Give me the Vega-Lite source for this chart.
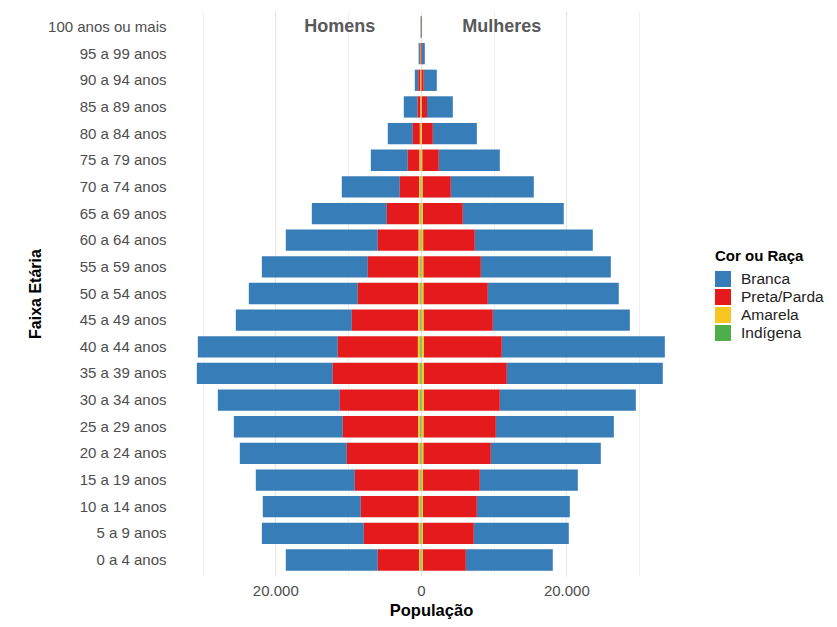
{
  "$schema": "https://vega.github.io/schema/vega-lite/v6.json",
  "width": 518,
  "height": 565,
  "autosize": {"type": "none"},
  "padding": {"left": 172, "top": 11, "right": 147, "bottom": 51},
  "background": "white",
  "config": {"view": {"stroke": null}, "font": "Liberation Sans"},
  "layer": [
    {
      "data": {"values": [
        {"idade": "100 anos ou mais", "sexo": "Homens", "Branca": -20, "Preta/Parda": -20, "Amarela": -10, "Indígena": -10},
        {"idade": "95 a 99 anos", "sexo": "Homens", "Branca": -180, "Preta/Parda": -90, "Amarela": -20, "Indígena": -10},
        {"idade": "90 a 94 anos", "sexo": "Homens", "Branca": -475, "Preta/Parda": -295, "Amarela": -40, "Indígena": -15},
        {"idade": "85 a 89 anos", "sexo": "Homens", "Branca": -1890, "Preta/Parda": -370, "Amarela": -60, "Indígena": -20},
        {"idade": "80 a 84 anos", "sexo": "Homens", "Branca": -3440, "Preta/Parda": -970, "Amarela": -100, "Indígena": -30},
        {"idade": "75 a 79 anos", "sexo": "Homens", "Branca": -5080, "Preta/Parda": -1620, "Amarela": -130, "Indígena": -40},
        {"idade": "70 a 74 anos", "sexo": "Homens", "Branca": -7970, "Preta/Parda": -2680, "Amarela": -160, "Indígena": -50},
        {"idade": "65 a 69 anos", "sexo": "Homens", "Branca": -10310, "Preta/Parda": -4410, "Amarela": -200, "Indígena": -60},
        {"idade": "60 a 64 anos", "sexo": "Homens", "Branca": -12650, "Preta/Parda": -5620, "Amarela": -220, "Indígena": -70},
        {"idade": "55 a 59 anos", "sexo": "Homens", "Branca": -14570, "Preta/Parda": -6960, "Amarela": -240, "Indígena": -80},
        {"idade": "50 a 54 anos", "sexo": "Homens", "Branca": -14980, "Preta/Parda": -8330, "Amarela": -250, "Indígena": -80},
        {"idade": "45 a 49 anos", "sexo": "Homens", "Branca": -15950, "Preta/Parda": -9130, "Amarela": -260, "Indígena": -90},
        {"idade": "40 a 44 anos", "sexo": "Homens", "Branca": -19240, "Preta/Parda": -11010, "Amarela": -300, "Indígena": -100},
        {"idade": "35 a 39 anos", "sexo": "Homens", "Branca": -18690, "Preta/Parda": -11700, "Amarela": -300, "Indígena": -100},
        {"idade": "30 a 34 anos", "sexo": "Homens", "Branca": -16770, "Preta/Parda": -10750, "Amarela": -280, "Indígena": -100},
        {"idade": "25 a 29 anos", "sexo": "Homens", "Branca": -14980, "Preta/Parda": -10380, "Amarela": -250, "Indígena": -90},
        {"idade": "20 a 24 anos", "sexo": "Homens", "Branca": -14710, "Preta/Parda": -9840, "Amarela": -240, "Indígena": -90},
        {"idade": "15 a 19 anos", "sexo": "Homens", "Branca": -13610, "Preta/Parda": -8770, "Amarela": -220, "Indígena": -80},
        {"idade": "10 a 14 anos", "sexo": "Homens", "Branca": -13470, "Preta/Parda": -7970, "Amarela": -200, "Indígena": -80},
        {"idade": "5 a 9 anos", "sexo": "Homens", "Branca": -14020, "Preta/Parda": -7550, "Amarela": -200, "Indígena": -80},
        {"idade": "0 a 4 anos", "sexo": "Homens", "Branca": -12650, "Preta/Parda": -5660, "Amarela": -180, "Indígena": -70},
        {"idade": "100 anos ou mais", "sexo": "Mulheres", "Branca": 90, "Preta/Parda": 35, "Amarela": 15, "Indígena": 10},
        {"idade": "95 a 99 anos", "sexo": "Mulheres", "Branca": 400, "Preta/Parda": 110, "Amarela": 30, "Indígena": 10},
        {"idade": "90 a 94 anos", "sexo": "Mulheres", "Branca": 1800, "Preta/Parda": 335, "Amarela": 50, "Indígena": 15},
        {"idade": "85 a 89 anos", "sexo": "Mulheres", "Branca": 3550, "Preta/Parda": 750, "Amarela": 80, "Indígena": 20},
        {"idade": "80 a 84 anos", "sexo": "Mulheres", "Branca": 6050, "Preta/Parda": 1500, "Amarela": 120, "Indígena": 30},
        {"idade": "75 a 79 anos", "sexo": "Mulheres", "Branca": 8390, "Preta/Parda": 2280, "Amarela": 150, "Indígena": 40},
        {"idade": "70 a 74 anos", "sexo": "Mulheres", "Branca": 11410, "Preta/Parda": 3890, "Amarela": 180, "Indígena": 50},
        {"idade": "65 a 69 anos", "sexo": "Mulheres", "Branca": 13880, "Preta/Parda": 5490, "Amarela": 220, "Indígena": 60},
        {"idade": "60 a 64 anos", "sexo": "Mulheres", "Branca": 16220, "Preta/Parda": 7100, "Amarela": 250, "Indígena": 70},
        {"idade": "55 a 59 anos", "sexo": "Mulheres", "Branca": 17870, "Preta/Parda": 7910, "Amarela": 260, "Indígena": 80},
        {"idade": "50 a 54 anos", "sexo": "Mulheres", "Branca": 18000, "Preta/Parda": 8860, "Amarela": 270, "Indígena": 80},
        {"idade": "45 a 49 anos", "sexo": "Mulheres", "Branca": 18830, "Preta/Parda": 9530, "Amarela": 280, "Indígena": 90},
        {"idade": "40 a 44 anos", "sexo": "Mulheres", "Branca": 22410, "Preta/Parda": 10710, "Amarela": 320, "Indígena": 100},
        {"idade": "35 a 39 anos", "sexo": "Mulheres", "Branca": 21440, "Preta/Parda": 11400, "Amarela": 320, "Indígena": 100},
        {"idade": "30 a 34 anos", "sexo": "Mulheres", "Branca": 18690, "Preta/Parda": 10460, "Amarela": 300, "Indígena": 100},
        {"idade": "25 a 29 anos", "sexo": "Mulheres", "Branca": 16220, "Preta/Parda": 9950, "Amarela": 270, "Indígena": 90},
        {"idade": "20 a 24 anos", "sexo": "Mulheres", "Branca": 15120, "Preta/Parda": 9280, "Amarela": 250, "Indígena": 90},
        {"idade": "15 a 19 anos", "sexo": "Mulheres", "Branca": 13470, "Preta/Parda": 7810, "Amarela": 220, "Indígena": 80},
        {"idade": "10 a 14 anos", "sexo": "Mulheres", "Branca": 12780, "Preta/Parda": 7420, "Amarela": 200, "Indígena": 80},
        {"idade": "5 a 9 anos", "sexo": "Mulheres", "Branca": 13060, "Preta/Parda": 7000, "Amarela": 200, "Indígena": 80},
        {"idade": "0 a 4 anos", "sexo": "Mulheres", "Branca": 11950, "Preta/Parda": 5940, "Amarela": 180, "Indígena": 70}
      ]},
      "transform": [
        {"fold": ["Branca", "Preta/Parda", "Amarela", "Indígena"], "as": ["cor", "pop"]},
        {"calculate": "indexof(['Indígena','Amarela','Preta/Parda','Branca'], datum.cor)", "as": "ordem"}
      ],
      "mark": {"type": "bar"},
      "encoding": {
        "y": {
          "field": "idade", "type": "nominal", "title": "Faixa Etária",
          "scale": {"domain": ["100 anos ou mais","95 a 99 anos","90 a 94 anos","85 a 89 anos","80 a 84 anos","75 a 79 anos","70 a 74 anos","65 a 69 anos","60 a 64 anos","55 a 59 anos","50 a 54 anos","45 a 49 anos","40 a 44 anos","35 a 39 anos","30 a 34 anos","25 a 29 anos","20 a 24 anos","15 a 19 anos","10 a 14 anos","5 a 9 anos","0 a 4 anos"], "paddingInner": 0.2, "paddingOuter": 0.2},
          "axis": {"ticks": false, "domain": false, "grid": false, "labelFontSize": 15, "labelColor": "#4d4d4d", "labelPadding": 6, "titleFontSize": 16, "titleFontWeight": "bold", "titleColor": "#000000", "titlePadding": 4}
        },
        "x": {
          "field": "pop", "type": "quantitative", "stack": "zero", "title": "População",
          "scale": {"domain": [-34200, 37000], "nice": false, "zero": false},
          "axis": {
            "values": [-30000, -20000, -10000, 0, 10000, 20000, 30000],
            "labelExpr": "abs(datum.value) % 20000 == 0 ? replace(format(abs(datum.value), ','), ',', '.') : ''",
            "ticks": false, "domain": false, "labelOverlap": false,
            "gridColor": "#e6e6e6",
            "gridWidth": {"condition": {"test": "abs(datum.value) % 20000 == 0", "value": 1.2}, "value": 0.6},
            "labelFontSize": 15, "labelColor": "#4d4d4d", "labelPadding": 7,
            "titleFontSize": 16.5, "titleFontWeight": "bold", "titleColor": "#000000", "titlePadding": 4
          }
        },
        "color": {
          "field": "cor", "type": "nominal", "title": "Cor ou Raça",
          "scale": {"domain": ["Branca", "Preta/Parda", "Amarela", "Indígena"], "range": ["#377EB8", "#E41A1C", "#F7C623", "#4DAF4A"]},
          "legend": {
            "orient": "none", "legendX": 543, "legendY": 238,
            "symbolType": "square", "symbolSize": 256, "symbolStrokeWidth": 0, "symbolOpacity": 1,
            "rowPadding": 1, "labelOffset": 10,
            "labelFontSize": 15.5, "labelColor": "#222222",
            "titleFontSize": 15, "titleFontWeight": "bold", "titleColor": "#000000", "titlePadding": 7
          }
        },
        "order": {"field": "ordem", "type": "quantitative", "sort": "ascending"}
      }
    },
    {
      "data": {"values": [
        {"rotulo": "Homens", "x": -11130, "idade": "100 anos ou mais"},
        {"rotulo": "Mulheres", "x": 11130, "idade": "100 anos ou mais"}
      ]},
      "mark": {"type": "text", "fontWeight": "bold", "fontSize": 18, "color": "#595959", "baseline": "middle", "align": "center"},
      "encoding": {
        "x": {"field": "x", "type": "quantitative", "title": "População"},
        "y": {"field": "idade", "type": "nominal", "title": "Faixa Etária"},
        "text": {"field": "rotulo", "type": "nominal"}
      }
    }
  ]
}
